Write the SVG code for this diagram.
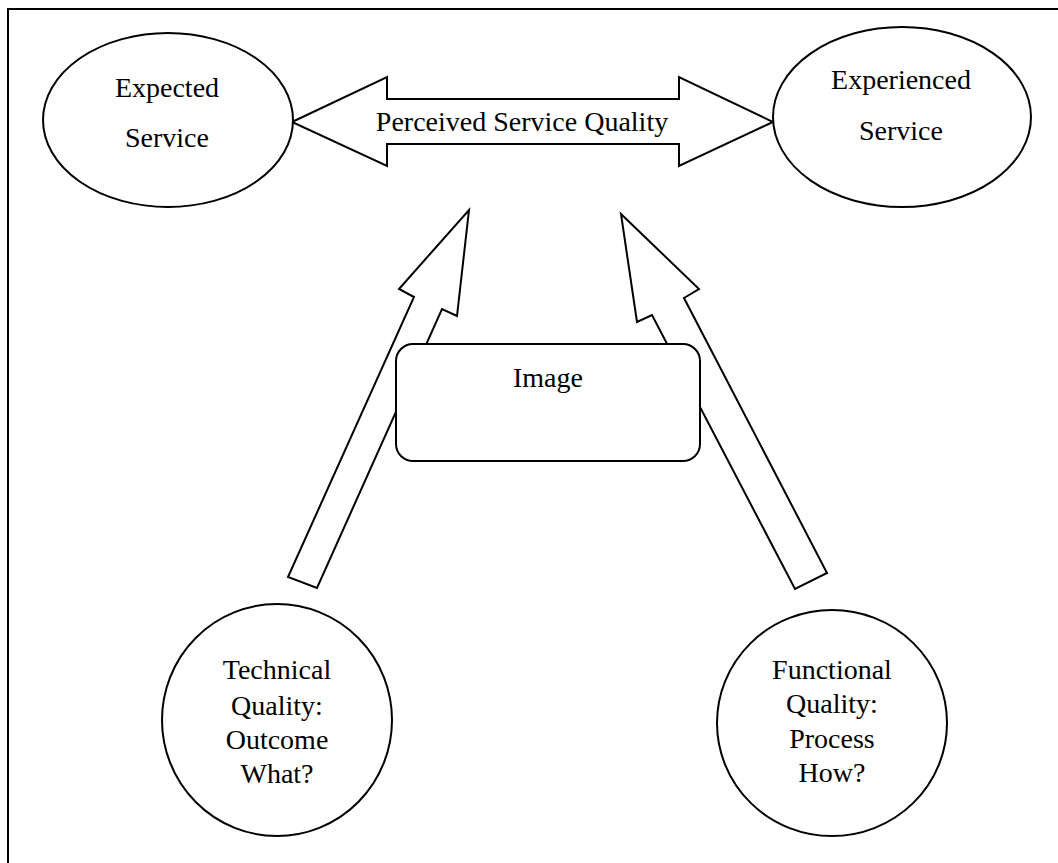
<svg xmlns="http://www.w3.org/2000/svg" width="1058" height="863" viewBox="0 0 1058 863">
<style>
.s{fill:#fff;stroke:#000;stroke-width:2;stroke-linejoin:miter}
.t{font-family:"Liberation Serif","Times New Roman",serif;font-size:28px;fill:#000;text-anchor:middle}
</style>
<rect x="0" y="0" width="1058" height="863" fill="#fff"/>
<g id="frame"><path d="M8,863 V9 H1058" fill="none" stroke="#000" stroke-width="2"/></g>
<g id="connectors">
<polygon class="s" points="292,122 387,77 387,99 679,99 679,77 773,122 679,166 679,144 387,144 387,166"/>
<polygon class="s" points="469,210 457,316 442,309 317,588 288,577 414,297 399,289"/>
<polygon class="s" points="621,214 699,289 684,298 827,573 795,589 652,315 637,322"/>
</g>
<text class="t" x="522" y="131">Perceived Service Quality</text>
<g id="expected">
<ellipse class="s" cx="168" cy="120" rx="125" ry="87"/>
<text class="t" x="167" y="97">Expected</text>
<text class="t" x="167" y="147">Service</text>
</g>
<g id="experienced">
<ellipse class="s" cx="902" cy="117" rx="129" ry="90"/>
<text class="t" x="901" y="89">Experienced</text>
<text class="t" x="901" y="140">Service</text>
</g>
<g id="image">
<rect class="s" x="396" y="344" width="304" height="117" rx="17" ry="17"/>
<text class="t" x="548" y="387">Image</text>
</g>
<g id="technical">
<ellipse class="s" cx="277" cy="720" rx="115" ry="116"/>
<text class="t" x="277" y="679">Technical</text>
<text class="t" x="277" y="715">Quality:</text>
<text class="t" x="277" y="749">Outcome</text>
<text class="t" x="277" y="783">What?</text>
</g>
<g id="functional">
<ellipse class="s" cx="832" cy="723" rx="115" ry="113"/>
<text class="t" x="832" y="679">Functional</text>
<text class="t" x="832" y="713">Quality:</text>
<text class="t" x="832" y="748">Process</text>
<text class="t" x="832" y="782">How?</text>
</g>
</svg>
